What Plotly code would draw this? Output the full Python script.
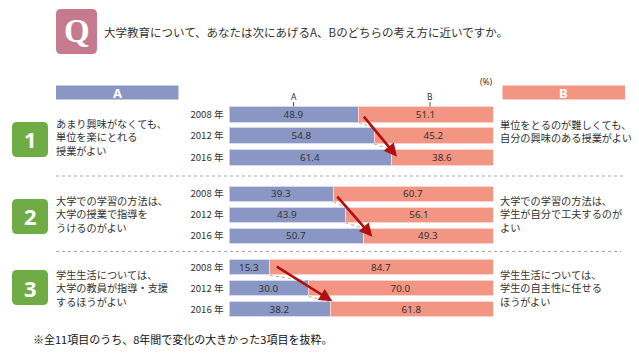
import plotly.graph_objects as go

W, H = 639, 356
years = ["2008 年", "2012 年", "2016 年"]
series_a = [[48.9, 54.8, 61.4], [39.3, 43.9, 50.7], [15.3, 30.0, 38.2]]
series_b = [[51.1, 45.2, 38.6], [60.7, 56.1, 49.3], [84.7, 70.0, 61.8]]
numbers = ["1", "2", "3"]
text_a = [["あまり興味がなくても、", "単位を楽にとれる", "授業がよい"],
          ["大学での学習の方法は、", "大学の授業で指導を", "うけるのがよい"],
          ["学生生活については、", "大学の教員が指導・支援", "するほうがよい"]]
text_b = [["単位をとるのが難しくても、", "自分の興味のある授業がよい"],
          ["大学での学習の方法は、", "学生が自分で工夫するのが", "よい"],
          ["学生生活については、", "学生の自主性に任せる", "ほうがよい"]]
question = "大学教育について、あなたは次にあげるA、Bのどちらの考え方に近いですか。"
footnote = "※全11項目のうち、8年間で変化の大きかった3項目を抜粋。"

FONT = "Noto Sans CJK JP"
BLUE, SALMON, GREEN, ROSE = "#8a97c4", "#f39583", "#6fac45", "#c67a90"
INK = "#333333"
X0, X1 = 229.5, 493.5
bands = [(103.6, 168.4), (183.5, 246.5), (257.2, 320.2)]
centers_num = [139.5, 216.5, 287.5]
left_y = [136.5, 213.5, 287.5]
right_y = [131, 213.5, 287.5]
arrow_geom = [(4, 0.03, 5.4, 1.96), (2.7, 0.05, 9, 2.03), (5.4, -0.1, 2, 1.6)]

px = lambda x: x / W
py = lambda y: 1 - y / H

fig = go.Figure()
ann, shp = [], []

def text(x, y, s, size=10.2, color=INK, anchor="left", bold=False, family=FONT):
    ann.append(dict(x=px(x), y=py(y), xref="paper", yref="paper", text=f"<b>{s}</b>" if bold else s,
                    showarrow=False, xanchor=anchor, yanchor="middle", align=anchor,
                    font=dict(size=size, color=color, family=family),
                    borderpad=0, borderwidth=0))

def rrect(x0, y0, x1, y1, r, color):
    a, b, c, d = px(x0), px(x1), py(y0), py(y1)
    rx, ry = r / W, r / H
    path = (f"M {a+rx} {c} L {b-rx} {c} Q {b} {c} {b} {c-ry} L {b} {d+ry} Q {b} {d} {b-rx} {d} "
            f"L {a+rx} {d} Q {a} {d} {a} {d+ry} L {a} {c-ry} Q {a} {c} {a+rx} {c} Z")
    shp.append(dict(type="path", path=path, xref="paper", yref="paper", fillcolor=color, line=dict(width=0), layer="below"))

layout_axes = {}
for i, (a_vals, b_vals) in enumerate(zip(series_a, series_b)):
    n = "" if i == 0 else str(i + 1)
    ya = f"y{n}"
    xa = f"x{n}"
    rows = list(range(len(years)))
    fig.add_bar(x=a_vals, y=rows, orientation="h", xaxis=xa, yaxis=ya, width=0.74,
                marker=dict(color=BLUE, line=dict(color="#d6dbec", width=1)),
                text=[f"{v:.1f}" for v in a_vals], textposition="inside", insidetextanchor="middle",
                constraintext="none", cliponaxis=False,
                textangle=0, textfont=dict(size=9.8, color=INK, family="Noto Sans"), showlegend=False)
    fig.add_bar(x=b_vals, y=rows, orientation="h", xaxis=xa, yaxis=ya, width=0.74,
                marker=dict(color=SALMON, line=dict(color="#fbd5cd", width=1)),
                text=[f"{v:.1f}" for v in b_vals], textposition="inside", insidetextanchor="middle",
                constraintext="none", cliponaxis=False,
                textangle=0, textfont=dict(size=9.8, color=INK, family="Noto Sans"), showlegend=False)
    b0, b1 = bands[i]
    layout_axes[f"xaxis{n}"] = dict(domain=[px(X0), px(X1)], range=[0, 100], visible=False, fixedrange=True, anchor=ya)
    layout_axes[f"yaxis{n}"] = dict(domain=[py(b1), py(b0)], range=[2.5, -0.5], tickvals=rows, ticktext=years,
                                    showgrid=False, zeroline=False, showline=False, ticks="", anchor=xa,
                                    ticklabelstandoff=5, tickfont=dict(size=9.6, color=INK, family=FONT))
    # dotted connectors between the A/B boundaries of successive years
    for r in rows[:-1]:
        shp.append(dict(type="line", xref=xa, yref=ya, x0=a_vals[r], x1=a_vals[r + 1], y0=r + 0.37, y1=r + 0.63,
                        line=dict(color="#aaaaaa", width=1, dash="dot"), layer="above"))
    # red arrow from first to last year
    ox0, oy0, ox1, oy1 = arrow_geom[i]
    ann.append(dict(x=a_vals[-1] + ox1 / 2.64, y=oy1, ax=a_vals[0] + ox0 / 2.64, ay=oy0, xref=xa, yref=ya, axref=xa, ayref=ya,
                    showarrow=True, text="", arrowhead=2, arrowsize=1, arrowwidth=2.6, arrowcolor="#b30f0f"))
    # number badge
    rrect(12, centers_num[i] - 17.5, 48, centers_num[i] + 17.5, 5, GREEN)
    text(30, centers_num[i], numbers[i], size=22, color="white", anchor="center", bold=True, family="Noto Sans")
    text(56, left_y[i], "<br>".join(text_a[i]))
    text(500, right_y[i], "<br>".join(text_b[i]))

rrect(56, 9, 97, 54, 5, ROSE)
text(76.5, 31, "Q", size=33, color="white", anchor="center", bold=True, family="Liberation Serif")
text(104, 32, question, size=11.5)
for x0, x1, lab in [(56, 178.5, "A"), (502.5, 625, "B")]:
    shp.append(dict(type="rect", xref="paper", yref="paper", x0=px(x0), x1=px(x1), y0=py(99.5), y1=py(85.5),
                    fillcolor=BLUE if lab == "A" else SALMON, line=dict(width=0), layer="below"))
    text((x0 + x1) / 2, 92.5, lab, size=13, color="white", anchor="center", bold=True, family="Noto Sans")
for x, lab in [(293.5, "A"), (430, "B")]:
    text(x, 96.5, lab, size=8.5, anchor="center", family="Noto Sans")
    shp.append(dict(type="line", xref="paper", yref="paper", x0=px(x), x1=px(x), y0=py(102), y1=py(106.5), line=dict(color="#555555", width=1)))
text(486, 81.5, "(%)", size=8.5, anchor="center", family="Noto Sans")
for y, x1 in [(176, 624), (251.5, 621)]:
    shp.append(dict(type="line", xref="paper", yref="paper", x0=px(56), x1=px(x1), y0=py(y), y1=py(y),
                    line=dict(color="#aaaaaa", width=1, dash="dot")))
text(33, 339, footnote, size=11, color="#111111")

fig.update_layout(width=W, height=H, margin=dict(l=0, r=0, t=0, b=0), barmode="stack", bargap=0,
                  paper_bgcolor="white", plot_bgcolor="white", annotations=ann, shapes=shp,
                  uniformtext=dict(mode=False), **layout_axes)
fig.write_html("out.html", config={"displayModeBar": False},
               post_script="document.body.style.margin='0';document.body.style.overflow='hidden';")
